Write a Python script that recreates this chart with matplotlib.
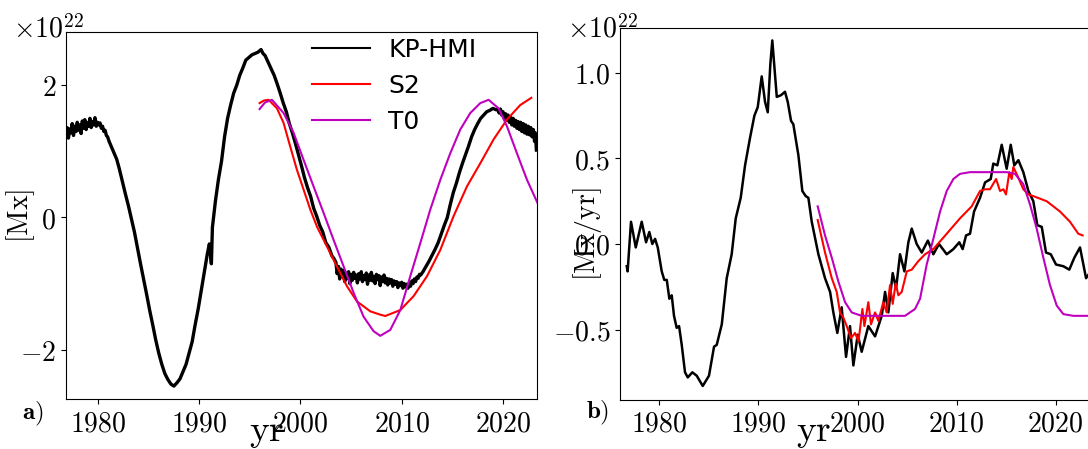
import matplotlib
matplotlib.use("Agg")
import matplotlib.pyplot as plt
from matplotlib.ticker import FuncFormatter

plt.rcParams['mathtext.fontset'] = 'cm'
plt.rcParams['font.family'] = ['DejaVu Sans']

# ---------------- Left panel: magnetic flux [1e22 Mx] ----------------
kp_years = [1976.84, 1976.95, 1977.08, 1977.2, 1977.33, 1977.45, 1977.58, 1977.7, 1977.83, 1977.95,
            1978.08, 1978.2, 1978.33, 1978.45, 1978.58, 1978.7, 1978.83, 1978.95, 1979.08, 1979.2,
            1979.33, 1979.45, 1979.58, 1979.7, 1979.83, 1979.95, 1980.08, 1980.2, 1980.33, 1980.45,
            1980.58, 1980.7, 1980.83, 1980.95, 1981.1, 1981.35, 1981.6,
            1981.85, 1982.1, 1982.4, 1982.7, 1983.0, 1983.3, 1983.6, 1983.9, 1984.2, 1984.5,
            1984.8, 1985.1, 1985.4, 1985.7, 1986.0, 1986.3, 1986.6, 1986.9, 1987.2, 1987.5,
            1987.8, 1988.1, 1988.4, 1988.7, 1989.0, 1989.3, 1989.6, 1989.9, 1990.2, 1990.5,
            1990.8, 1991.0, 1991.2, 1991.3, 1991.6, 1991.9, 1992.2, 1992.5, 1992.8, 1993.1,
            1993.4, 1993.7, 1994.0, 1994.3, 1994.6, 1994.9, 1995.2, 1995.5, 1995.8, 1996.1,
            1996.3, 1996.5, 1996.8, 1997.1, 1997.4, 1997.7, 1998.0, 1998.3, 1998.6, 1998.9,
            1999.2, 1999.5, 1999.8, 2000.1, 2000.4, 2000.7, 2001.0, 2001.3, 2001.6, 2001.9,
            2002.2, 2002.5, 2002.8, 2003.1, 2003.3,
            2003.5, 2003.62, 2003.75, 2003.87, 2004.0, 2004.12, 2004.25, 2004.37, 2004.5, 2004.62,
            2004.75, 2004.87, 2005.0, 2005.12, 2005.25, 2005.37, 2005.5, 2005.62, 2005.75, 2005.87,
            2006.0, 2006.12, 2006.25, 2006.37, 2006.5, 2006.62, 2006.75, 2006.87, 2007.0, 2007.12,
            2007.25, 2007.37, 2007.5, 2007.62, 2007.75, 2007.87, 2008.0, 2008.12, 2008.25, 2008.37,
            2008.5, 2008.62, 2008.75, 2008.87, 2009.0, 2009.12, 2009.25, 2009.37, 2009.5, 2009.62,
            2009.75, 2009.87, 2010.0, 2010.12, 2010.25, 2010.37, 2010.5, 2010.62, 2010.75, 2010.87,
            2011.0, 2011.12, 2011.25, 2011.37, 2011.5, 2011.62, 2011.75, 2011.87,
            2012.1, 2012.4, 2012.7, 2013.0, 2013.3, 2013.6, 2013.9,
            2014.2, 2014.5, 2014.8, 2015.1, 2015.4, 2015.7, 2016.0, 2016.3, 2016.6, 2016.9,
            2017.2, 2017.5, 2017.8, 2018.1, 2018.4, 2018.7, 2019.0, 2019.3,
            2019.5, 2019.62, 2019.75, 2019.87, 2020.0, 2020.12, 2020.25, 2020.37, 2020.5, 2020.62,
            2020.75, 2020.87, 2021.0, 2021.12, 2021.25, 2021.37, 2021.5, 2021.62, 2021.75, 2021.87,
            2022.0, 2022.12, 2022.25, 2022.37, 2022.5, 2022.62, 2022.75, 2022.87, 2023.0, 2023.12,
            2023.2, 2023.3]
kp_flux = [1.25, 1.36, 1.20, 1.34, 1.28, 1.42, 1.24, 1.38, 1.30, 1.44,
           1.32, 1.40, 1.27, 1.46, 1.35, 1.48, 1.33, 1.43, 1.38, 1.50,
           1.36, 1.45, 1.40, 1.51, 1.38, 1.44, 1.40, 1.43, 1.35, 1.38,
           1.30, 1.32, 1.24, 1.22, 1.15, 1.06, 0.97,
           0.88, 0.74, 0.55, 0.36, 0.18, -0.02, -0.22, -0.46, -0.70, -0.93,
           -1.16, -1.40, -1.62, -1.85, -2.05, -2.22, -2.36, -2.45, -2.52, -2.55,
           -2.50, -2.44, -2.33, -2.22, -2.05, -1.88, -1.62, -1.38, -1.10, -0.83,
           -0.55, -0.40, -0.70, -0.15, 0.25, 0.58, 0.85, 1.22, 1.50, 1.70,
           1.88, 2.00, 2.15, 2.26, 2.38, 2.42, 2.46, 2.48, 2.50, 2.54,
           2.48, 2.45, 2.35, 2.25, 2.15, 2.02, 1.88, 1.73, 1.60, 1.42,
           1.28, 1.12, 0.95, 0.78, 0.60, 0.45, 0.32, 0.14, 0.02, -0.12,
           -0.22, -0.38, -0.45, -0.58, -0.62,
           -0.68, -0.85, -0.74, -0.93, -0.78, -0.88, -0.80, -0.97, -0.84, -0.92,
           -0.82, -1.00, -0.86, -0.95, -0.83, -0.92, -0.87, -0.99, -0.85, -0.93,
           -0.82, -0.97, -0.88, -0.94, -0.84, -1.01, -0.87, -0.95, -0.83, -0.96,
           -0.89, -1.00, -0.86, -0.94, -0.88, -1.03, -0.90, -0.97, -0.87, -0.99,
           -0.92, -1.02, -0.93, -0.99, -0.94, -1.04, -0.96, -1.01, -0.97, -1.06,
           -0.99, -1.03, -0.98, -1.07, -1.00, -1.05, -1.01, -1.07, -0.99, -1.04,
           -0.96, -1.00, -0.93, -0.97, -0.90, -0.92, -0.86, -0.87,
           -0.82, -0.74, -0.66, -0.57, -0.48, -0.38, -0.25,
           -0.12, 0.00, 0.20, 0.38, 0.52, 0.68, 0.82, 0.95, 1.08, 1.22,
           1.33, 1.42, 1.50, 1.55, 1.60, 1.62, 1.65, 1.63,
           1.63, 1.58, 1.64, 1.55, 1.60, 1.50, 1.57, 1.47, 1.55, 1.44,
           1.52, 1.40, 1.50, 1.38, 1.47, 1.35, 1.45, 1.33, 1.44, 1.30,
           1.42, 1.28, 1.40, 1.26, 1.38, 1.25, 1.36, 1.22, 1.33, 1.15,
           1.28, 1.02]

s2_years = [1995.96, 1996.4, 1996.85, 1997.68, 1998.33, 1998.99, 1999.65, 2000.31, 2000.97, 2001.63,
            2002.62, 2003.6, 2004.59, 2005.58, 2006.9, 2007.88, 2008.38, 2009.86, 2011.17, 2012.49,
            2013.81, 2015.12, 2016.44, 2017.76, 2019.07, 2020.39, 2021.7, 2022.8]
s2_flux = [1.73, 1.77, 1.78, 1.65, 1.43, 1.07, 0.72, 0.42, 0.12, -0.14,
           -0.44, -0.74, -1.04, -1.27, -1.42, -1.47, -1.49, -1.40, -1.19, -0.89,
           -0.49, 0.02, 0.47, 0.82, 1.18, 1.48, 1.70, 1.81]

t0_years = [1995.96, 1996.5, 1997.18, 1998.33, 1999.32, 2000.31, 2001.29, 2002.28, 2003.27, 2004.26,
            2005.25, 2006.23, 2007.22, 2007.88, 2008.87, 2009.86, 2010.84, 2011.83, 2012.82, 2013.81,
            2014.79, 2015.78, 2016.77, 2017.76, 2018.58, 2019.57, 2020.39, 2021.38, 2022.37, 2023.5]
t0_flux = [1.64, 1.74, 1.78, 1.58, 1.28, 0.87, 0.47, 0.07, -0.34, -0.74,
           -1.14, -1.50, -1.72, -1.79, -1.70, -1.40, -0.89, -0.39, 0.12, 0.57,
           0.97, 1.33, 1.58, 1.73, 1.78, 1.65, 1.38, 0.97, 0.57, 0.19]

# ---------------- Right panel: flux rate [1e22 Mx/yr] ----------------
kpr_years = [1976.71, 1976.8, 1977.14, 1977.62, 1978.22, 1978.66, 1978.99, 1979.29, 1979.57, 1979.84,
             1980.24, 1980.5, 1980.75, 1981.01, 1981.25, 1981.48, 1981.75, 1981.99, 1982.26, 1982.59,
             1982.87, 1983.33, 1983.77, 1984.38, 1985.01, 1985.52, 1985.79, 1986.3, 1986.8, 1987.3,
             1987.71, 1988.21, 1988.65, 1989.15, 1989.59, 1989.93, 1990.33, 1990.67, 1990.94, 1991.2,
             1991.4, 1991.85, 1992.28, 1992.68, 1992.96, 1993.29, 1993.52, 1994.03, 1994.43, 1994.77,
             1995.04, 1995.38, 1996.05, 1996.72, 1997.23, 1997.56, 1997.96, 1998.4, 1998.84, 1999.24,
             1999.58, 2000.02, 2000.42, 2001.09, 2001.77, 2002.44, 2002.78, 2003.11, 2003.55, 2003.89,
             2004.29, 2004.73, 2005.13, 2005.47, 2005.97, 2006.48, 2007.1, 2007.65, 2008.22, 2009.0,
             2009.67, 2010.27, 2010.61, 2010.95, 2011.35, 2011.76, 2012.36, 2012.87, 2013.44, 2013.7,
             2014.11, 2014.55, 2015.05, 2015.46, 2015.82, 2016.23, 2016.73, 2017.24, 2017.74, 2018.14,
             2018.59, 2019.02, 2019.5, 2020.03, 2020.77, 2021.37, 2021.88, 2022.45, 2022.79, 2023.06,
             2023.3]
kpr_rate = [-0.13, -0.16, 0.13, -0.02, 0.13, 0.01, 0.07, 0.00, 0.03, -0.02,
            -0.16, -0.21, -0.21, -0.32, -0.30, -0.42, -0.49, -0.48, -0.59, -0.75,
            -0.78, -0.75, -0.77, -0.83, -0.77, -0.60, -0.59, -0.47, -0.20, -0.06,
            0.15, 0.27, 0.46, 0.62, 0.75, 0.80, 0.98, 0.83, 0.77, 1.05,
            1.19, 0.86, 0.87, 0.89, 0.83, 0.72, 0.70, 0.52, 0.31, 0.28,
            0.27, 0.13, -0.06, -0.20, -0.28, -0.40, -0.52, -0.37, -0.66, -0.48,
            -0.71, -0.53, -0.63, -0.48, -0.54, -0.42, -0.28, -0.40, -0.17, -0.26,
            -0.06, -0.16, 0.01, 0.09, 0.00, -0.05, 0.02, -0.06, 0.00, -0.06,
            -0.03, 0.01, -0.03, 0.05, 0.06, 0.19, 0.27, 0.36, 0.38, 0.47,
            0.46, 0.58, 0.44, 0.58, 0.46, 0.49, 0.42, 0.31, 0.25, 0.11,
            0.10, -0.05, -0.06, -0.12, -0.13, -0.15, -0.08, -0.02, -0.12, -0.20,
            -0.18]

s2r_years = [1995.98, 1996.72, 1997.4, 1997.9, 1998.23, 1998.57, 1998.91, 1999.34, 1999.75, 2000.1,
             2000.49, 2000.69, 2001.09, 2001.36, 2001.77, 2002.1, 2002.6, 2002.94, 2003.28, 2003.55,
             2003.85, 2004.12, 2004.46, 2004.97, 2005.47, 2006.14, 2006.81, 2007.65, 2009.0, 2010.34,
             2011.52, 2012.36, 2012.87, 2013.37, 2013.98, 2014.38, 2014.72, 2014.98, 2015.32, 2015.56,
             2015.72, 2016.13, 2016.73, 2017.24, 2017.74, 2019.09, 2020.43, 2021.44, 2022.28, 2022.72]
s2r_rate = [0.14, -0.05, -0.20, -0.28, -0.40, -0.43, -0.48, -0.55, -0.52, -0.57,
            -0.38, -0.48, -0.34, -0.47, -0.40, -0.45, -0.34, -0.40, -0.24, -0.35,
            -0.23, -0.30, -0.28, -0.16, -0.15, -0.10, -0.06, -0.03, 0.06, 0.15,
            0.22, 0.31, 0.32, 0.32, 0.38, 0.31, 0.32, 0.29, 0.42, 0.38,
            0.45, 0.40, 0.32, 0.29, 0.28, 0.25, 0.19, 0.13, 0.06, 0.05]

t0r_years = [1995.98, 1996.72, 1997.4, 1998.07, 1998.74, 1999.41, 2000.42, 2001.77, 2003.45, 2004.79,
             2005.8, 2006.31, 2006.98, 2007.65, 2008.33, 2009.0, 2009.67, 2010.34, 2011.35, 2015.05,
             2015.89, 2016.73, 2017.41, 2018.08, 2018.75, 2019.42, 2020.1, 2020.77, 2021.78, 2023.6]
t0r_rate = [0.22, 0.05, -0.08, -0.22, -0.34, -0.40, -0.42, -0.42, -0.42, -0.42,
            -0.38, -0.32, -0.12, 0.03, 0.19, 0.31, 0.38, 0.41, 0.42, 0.42,
            0.41, 0.35, 0.23, 0.09, -0.08, -0.24, -0.36, -0.41, -0.42, -0.42]

xticks = [1980, 1990, 2000, 2010, 2020]
left_yticks = [-2, 0, 2]
right_yticks = [-0.5, 0.0, 0.5, 1.0]

W, H = 1088, 449
fig = plt.figure(figsize=(W / 100, H / 100), dpi=100)

def px_axes(x0, y0, x1, y1):
    return fig.add_axes([x0 / W, (H - y1) / H, (x1 - x0) / W, (y1 - y0) / H])

axL = px_axes(66, 31.7, 537, 399.3)
axR = px_axes(620, 28.3, 1091, 400)

fmt_int = FuncFormatter(lambda v, p: f'${v:.0f}$')
fmt_1 = FuncFormatter(lambda v, p: f'${v:.1f}$')

# Left
axL.plot(kp_years, kp_flux, color='black', lw=2.4, label='KP-HMI')
axL.plot(s2_years, s2_flux, color='red', lw=1.5, label='S2')
axL.plot(t0_years, t0_flux, color='m', lw=1.5, label='T0')
axL.set_xlim(1976.84, 2023.36)
axL.set_ylim(-2.75, 2.81)
axL.set_xticks(xticks)
axL.set_yticks(left_yticks)
axL.xaxis.set_major_formatter(fmt_int)
axL.yaxis.set_major_formatter(fmt_int)
leg = axL.legend(loc='upper left', bbox_to_anchor=(0.475, 1.045), frameon=False,
                 fontsize=18, handlelength=2.3, handletextpad=0.75, labelspacing=0.48)
for ln in leg.get_lines():
    ln.set_linewidth(1.5)

# Right
axR.plot(kpr_years, kpr_rate, color='black', lw=1.8)
axR.plot(s2r_years, s2r_rate, color='red', lw=1.5)
axR.plot(t0r_years, t0r_rate, color='m', lw=1.5)
axR.set_xlim(1976.03, 2023.56)
axR.set_ylim(-0.912, 1.261)
axR.set_xticks(xticks)
axR.set_yticks(right_yticks)
axR.xaxis.set_major_formatter(fmt_int)
axR.yaxis.set_major_formatter(fmt_1)

for ax in (axL, axR):
    ax.tick_params(labelsize=20, length=3.5)

axL.set_xlabel(r'$\mathrm{yr}$', fontsize=27)
axR.set_xlabel(r'$\mathrm{yr}$', fontsize=27)
axL.xaxis.set_label_coords((267 - 66) / 471, (399.3 - 441) / 367.6)
axR.xaxis.set_label_coords((814 - 620) / 471, (400 - 441) / 371.7)
axL.xaxis.label.set_va('baseline')
axR.xaxis.label.set_va('baseline')

axL.set_ylabel(r'$[\mathrm{Mx}]$', fontsize=20)
axR.set_ylabel(r'$[\mathrm{Mx/yr}]$', fontsize=20)
axL.yaxis.set_label_coords((37 - 66) / 471, 0.5)
axR.yaxis.set_label_coords((604 - 620) / 471, (400 - 234) / 371.7)

# offset multipliers
fig.text(12.7 / W, (H - 38) / H, r'$\times10^{22}$', fontsize=20, ha='left', va='baseline')
fig.text(567 / W, (H - 37.7) / H, r'$\times10^{22}$', fontsize=20, ha='left', va='baseline')

# panel letters
fig.text(33 / W, (H - 414) / H, r'$\mathbf{a)}$', fontsize=18, ha='center', va='center')
fig.text(598 / W, (H - 413) / H, r'$\mathbf{b)}$', fontsize=18, ha='center', va='center')

fig.savefig('out.png', dpi=100)
